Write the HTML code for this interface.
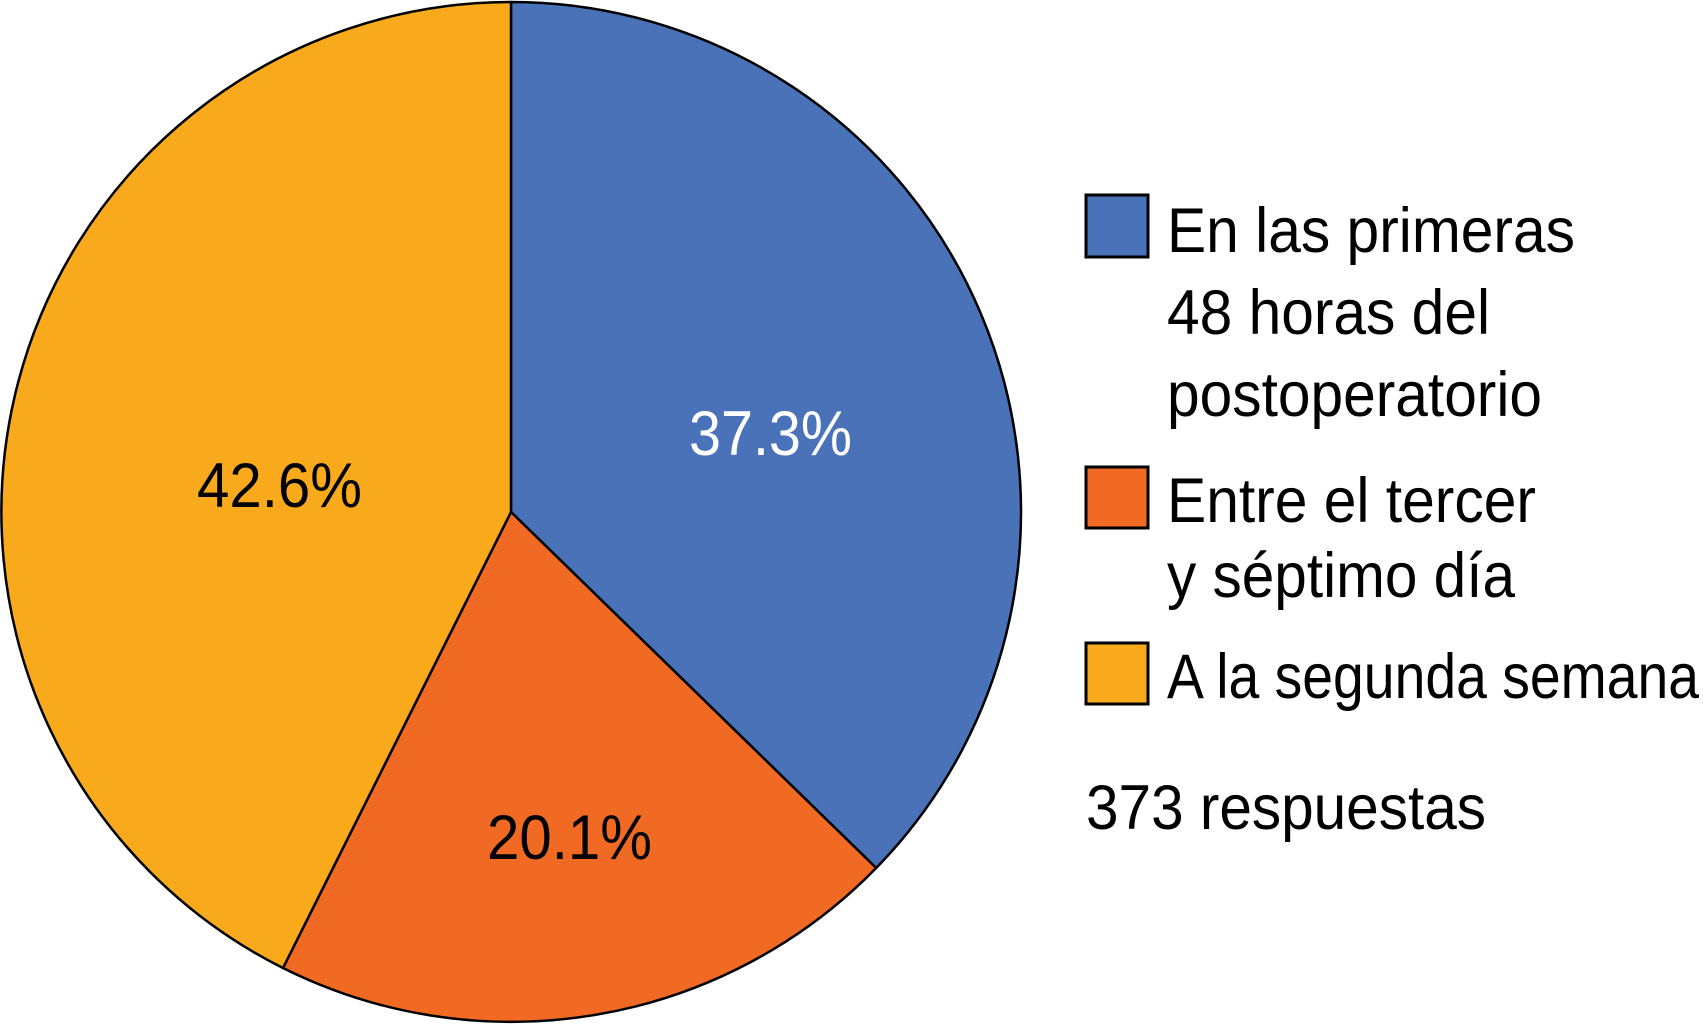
<!DOCTYPE html>
<html><head><meta charset="utf-8"><style>
html,body{margin:0;padding:0;background:#fff;}
svg{display:block;}
text{font-family:"Liberation Sans",sans-serif;font-size:63px;}
</style></head><body>
<svg width="1703" height="1024" viewBox="0 0 1703 1024" xmlns="http://www.w3.org/2000/svg">
<g stroke="#000" stroke-width="2.5" stroke-linejoin="round">
<path d="M511,512 L511,2 A510,510 0 0,1 876.2,868 Z" fill="#4a72b8"/>
<path d="M511,512 L876.2,868 A510,510 0 0,1 283,968 Z" fill="#f06a23"/>
<path d="M511,512 L283,968 A510,510 0 0,1 511,2 Z" fill="#f9aa1c"/>
</g>
<text x="689" y="455" fill="#fff" textLength="163" lengthAdjust="spacingAndGlyphs">37.3%</text>
<text x="197" y="507" fill="#000" textLength="165" lengthAdjust="spacingAndGlyphs">42.6%</text>
<text x="487" y="859" fill="#000" textLength="165" lengthAdjust="spacingAndGlyphs">20.1%</text>
<g stroke="#000" stroke-width="3">
<rect x="1086" y="195" width="62" height="62" fill="#4a72b8"/>
<rect x="1086" y="467" width="62" height="61" fill="#f06a23"/>
<rect x="1086" y="643" width="62" height="61" fill="#f9aa1c"/>
</g>
<g fill="#000">
<text x="1167" y="252" textLength="408" lengthAdjust="spacingAndGlyphs">En las primeras</text>
<text x="1167" y="334" textLength="323" lengthAdjust="spacingAndGlyphs">48 horas del</text>
<text x="1167" y="416" textLength="375" lengthAdjust="spacingAndGlyphs">postoperatorio</text>
<text x="1167" y="522" textLength="369" lengthAdjust="spacingAndGlyphs">Entre el tercer</text>
<text x="1167" y="597" textLength="348" lengthAdjust="spacingAndGlyphs">y séptimo día</text>
<text x="1167" y="698" textLength="532" lengthAdjust="spacingAndGlyphs">A la segunda semana</text>
<text x="1086" y="829" textLength="400" lengthAdjust="spacingAndGlyphs">373 respuestas</text>
</g>
</svg>
</body></html>
